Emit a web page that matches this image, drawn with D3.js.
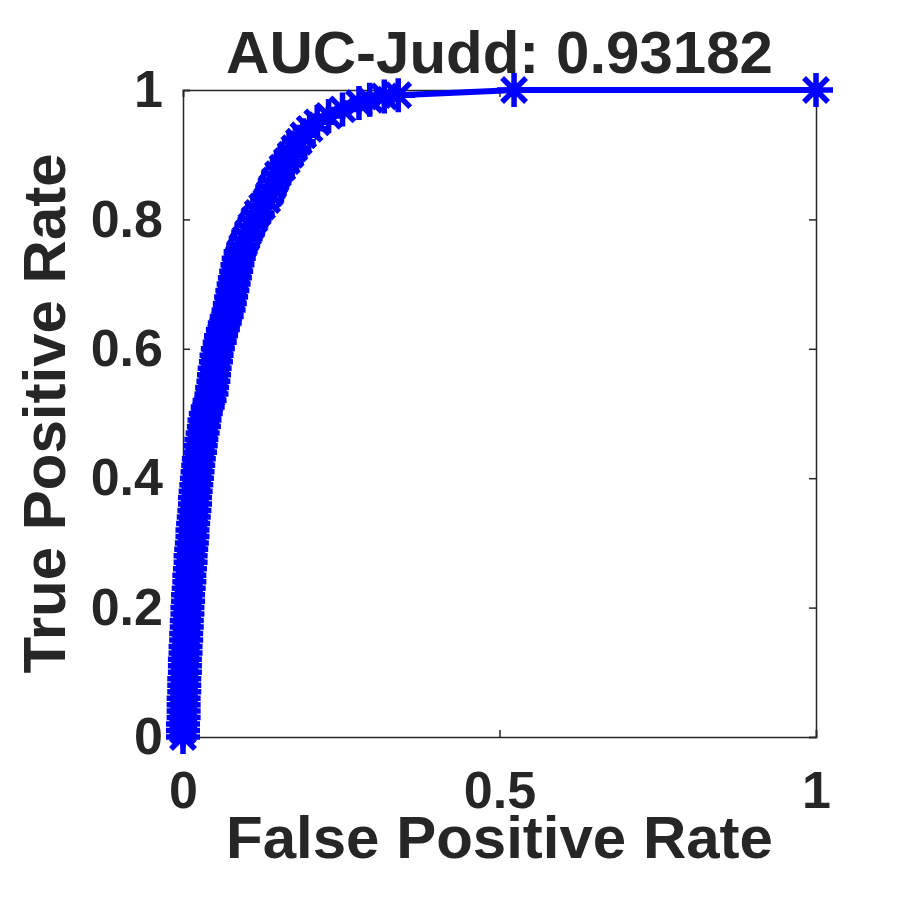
<!DOCTYPE html>
<html>
<head>
<meta charset="utf-8">
<script src="https://cdn.jsdelivr.net/npm/d3@7"></script>
<style>
  body { margin: 0; background: #fff; }
  svg { display: block; }
  text { font-family: "Liberation Sans", Arial, sans-serif; font-weight: bold; fill: #262626; }
</style>
</head>
<body>
<svg id="my-svg" width="900" height="900"></svg>
<script>
// ROC curve (false positive rate / true positive rate)
const fprValues = [
  0.000, 0.000, 0.000, 0.001, 0.001, 0.001, 0.001, 0.002, 0.002, 0.002,
  0.003, 0.003, 0.003, 0.004, 0.004, 0.005, 0.005, 0.006, 0.006, 0.007,
  0.007, 0.008, 0.008, 0.009, 0.010, 0.010, 0.011, 0.012, 0.012, 0.013,
  0.014, 0.015, 0.015, 0.016, 0.017, 0.018, 0.019, 0.019, 0.020, 0.021,
  0.022, 0.023, 0.024, 0.025, 0.027, 0.028, 0.029, 0.031, 0.033, 0.034,
  0.036, 0.039, 0.042, 0.045, 0.046, 0.048, 0.049, 0.050, 0.052, 0.053,
  0.055, 0.058, 0.060, 0.063, 0.066, 0.069, 0.072, 0.074, 0.076, 0.078,
  0.080, 0.082, 0.084, 0.086, 0.088, 0.091, 0.095, 0.099, 0.103, 0.108,
  0.113, 0.118, 0.125, 0.133, 0.137, 0.141, 0.145, 0.150, 0.157, 0.164,
  0.170, 0.176, 0.183, 0.190, 0.200, 0.212, 0.230, 0.252, 0.278, 0.295,
  0.318, 0.340, 0.523, 1.000
];
const tprValues = [
  0.00, 0.01, 0.02, 0.03, 0.04, 0.05, 0.06, 0.07, 0.08, 0.09,
  0.10, 0.11, 0.12, 0.13, 0.14, 0.15, 0.16, 0.17, 0.18, 0.19,
  0.20, 0.21, 0.22, 0.23, 0.24, 0.25, 0.26, 0.27, 0.28, 0.29,
  0.30, 0.31, 0.32, 0.33, 0.34, 0.35, 0.36, 0.37, 0.38, 0.39,
  0.40, 0.41, 0.42, 0.43, 0.44, 0.45, 0.46, 0.47, 0.48, 0.49,
  0.50, 0.51, 0.52, 0.53, 0.54, 0.55, 0.56, 0.57, 0.58, 0.59,
  0.60, 0.61, 0.62, 0.63, 0.64, 0.65, 0.66, 0.67, 0.68, 0.69,
  0.70, 0.71, 0.72, 0.73, 0.74, 0.75, 0.76, 0.77, 0.78, 0.79,
  0.80, 0.81, 0.82, 0.83, 0.84, 0.85, 0.86, 0.87, 0.88, 0.89,
  0.90, 0.91, 0.92, 0.93, 0.94, 0.95, 0.96, 0.97, 0.98, 0.985,
  0.99, 0.992, 1.000, 1.000
];
const xTicks = [0, 0.5, 1];
const yTicks = [0, 0.2, 0.4, 0.6, 0.8, 1];
const chartTitle = "AUC-Judd: 0.93182";
const xLabel = "False Positive Rate";
const yLabel = "True Positive Rate";

const svg = d3.select('svg');
const margin = {top: 90, right: 84, bottom: 163, left: 183};
const innerWidth = 900 - margin.left - margin.right;
const innerHeight = 900 - margin.top - margin.bottom;

const data = fprValues.map((f, i) => [f, tprValues[i]]);

const xScale = d3.scaleLinear().domain([0, 1]).range([0, innerWidth]);
const yScale = d3.scaleLinear().domain([0, 1]).range([innerHeight, 0]);

const g = svg.append('g')
    .attr('transform', `translate(${margin.left}, ${margin.top})`);

const fmt = d3.format('~g');
const axisColor = '#262626';

// box with inward ticks on all four sides
const xAxis = d3.axisBottom(xScale).tickValues(xTicks).tickFormat(fmt).tickSize(-7).tickPadding(34);
const xAxisTop = d3.axisTop(xScale).tickValues(xTicks).tickSize(-7);
const yAxis = d3.axisLeft(yScale).tickValues(yTicks).tickFormat(fmt).tickSize(-7).tickPadding(20);
const yAxisRight = d3.axisRight(yScale).tickValues(yTicks).tickSize(-7);

const styleAxis = (sel) => {
    sel.select('.domain').attr('stroke', axisColor).attr('stroke-width', 1.5);
    sel.selectAll('.tick line').attr('stroke', axisColor).attr('stroke-width', 1.5);
    sel.selectAll('.tick text')
        .attr('font-size', 52)
        .attr('font-family', '"Liberation Sans", Arial, sans-serif')
        .attr('font-weight', 'bold')
        .attr('fill', axisColor);
};

g.append('g').attr('transform', `translate(0, ${innerHeight})`).call(xAxis).call(styleAxis);
g.append('g').call(xAxisTop).call(styleAxis).selectAll('.tick text').remove();
g.append('g').call(yAxis).call(styleAxis);
g.append('g').attr('transform', `translate(${innerWidth}, 0)`).call(yAxisRight).call(styleAxis)
    .selectAll('.tick text').remove();

// the curve
const line = d3.line()
    .x(d => xScale(d[0]))
    .y(d => yScale(d[1]));

g.append('path')
    .datum(data)
    .attr('fill', 'none')
    .attr('stroke', '#0000ff')
    .attr('stroke-width', 6)
    .attr('stroke-linejoin', 'round')
    .attr('d', line);

// asterisk markers
const r = 17, k = 12;
const asterisk = `M${-r},0H${r}M0,${-r}V${r}M${-k},${-k}L${k},${k}M${-k},${k}L${k},${-k}`;

g.selectAll('.marker').data(data)
    .enter()
    .append('path')
    .attr('class', 'marker')
    .attr('transform', d => `translate(${xScale(d[0])}, ${yScale(d[1])})`)
    .attr('d', asterisk)
    .attr('fill', 'none')
    .attr('stroke', '#0000ff')
    .attr('stroke-width', 5.5);

// title and axis labels
g.append('text')
    .attr('x', innerWidth / 2)
    .attr('y', -17)
    .attr('text-anchor', 'middle')
    .attr('font-size', 60)
    .text(chartTitle);

g.append('text')
    .attr('x', innerWidth / 2)
    .attr('y', innerHeight + 121)
    .attr('text-anchor', 'middle')
    .attr('font-size', 60)
    .text(xLabel);

g.append('text')
    .attr('transform', `translate(${65 - margin.left}, ${innerHeight / 2}) rotate(-90)`)
    .attr('text-anchor', 'middle')
    .attr('font-size', 60)
    .text(yLabel);
</script>
</body>
</html>
